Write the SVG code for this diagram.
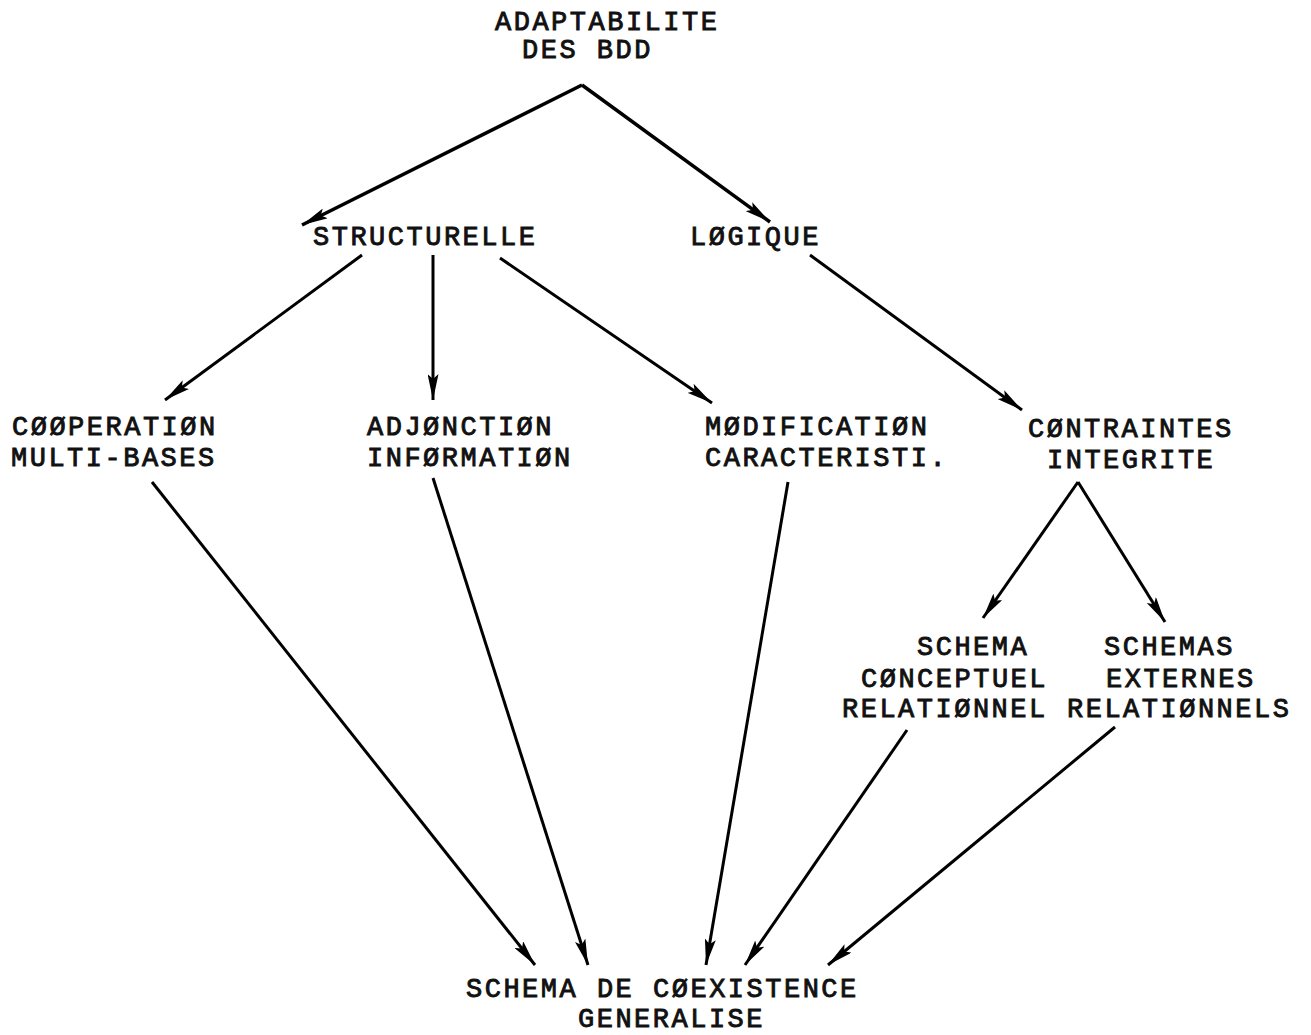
<svg xmlns="http://www.w3.org/2000/svg" width="1311" height="1035" viewBox="0 0 1311 1035">
<defs>
<marker id="a" viewBox="0 0 26 11" refX="26" refY="5.5" markerWidth="26" markerHeight="11" markerUnits="userSpaceOnUse" orient="auto">
<path d="M0,0 L26,5.5 L0,11 L5,5.5 Z" fill="#000"/>
</marker>
<style>
text{font-family:"Liberation Mono","DejaVu Sans Mono",monospace;font-size:27px;letter-spacing:2.5px;fill:#111;stroke:#111;stroke-width:0.9px;}
.c line{stroke:#000;stroke-width:3;marker-end:url(#a);}
</style>
</defs>
<rect width="1311" height="1035" fill="#fff"/>
<g id="n-adapt"><text x="495" y="30">ADAPTABILITE</text><text x="522" y="58">DES BDD</text></g>
<g id="n-struct"><text x="313" y="245">STRUCTURELLE</text></g>
<g id="n-logique"><text x="690" y="245">LØGIQUE</text></g>
<g id="n-coop"><text x="12" y="435">CØØPERATIØN</text><text x="11" y="466">MULTI-BASES</text></g>
<g id="n-adj"><text x="367" y="435">ADJØNCTIØN</text><text x="367" y="466">INFØRMATIØN</text></g>
<g id="n-modif"><text x="705" y="435">MØDIFICATIØN</text><text x="705" y="466">CARACTERISTI.</text></g>
<g id="n-contr"><text x="1028" y="437">CØNTRAINTES</text><text x="1047" y="468">INTEGRITE</text></g>
<g id="n-concept"><text x="917" y="655">SCHEMA</text><text x="861" y="687">CØNCEPTUEL</text><text x="842" y="717">RELATIØNNEL</text></g>
<g id="n-ext"><text x="1104" y="655">SCHEMAS</text><text x="1106" y="687">EXTERNES</text><text x="1067" y="717">RELATIØNNELS</text></g>
<g id="n-coex"><text x="466" y="997">SCHEMA DE CØEXISTENCE</text><text x="578" y="1027">GENERALISE</text></g>
<g id="connectors" class="c">
<line x1="582" y1="85" x2="302" y2="225" style="stroke-width:3.5"/>
<line x1="582" y1="85" x2="770" y2="222" style="stroke-width:3.5"/>
<line x1="362" y1="255" x2="165" y2="400"/>
<line x1="433" y1="255" x2="433" y2="400"/>
<line x1="500" y1="258" x2="712" y2="403"/>
<line x1="810" y1="255" x2="1022" y2="410"/>
<line x1="152" y1="482" x2="535" y2="965"/>
<line x1="433" y1="478" x2="588" y2="965"/>
<line x1="788" y1="482" x2="706" y2="965"/>
<line x1="1078" y1="482" x2="983" y2="618"/>
<line x1="1078" y1="482" x2="1165" y2="622"/>
<line x1="907" y1="730" x2="745" y2="965"/>
<line x1="1115" y1="727" x2="828" y2="965"/>
</g>
</svg>
